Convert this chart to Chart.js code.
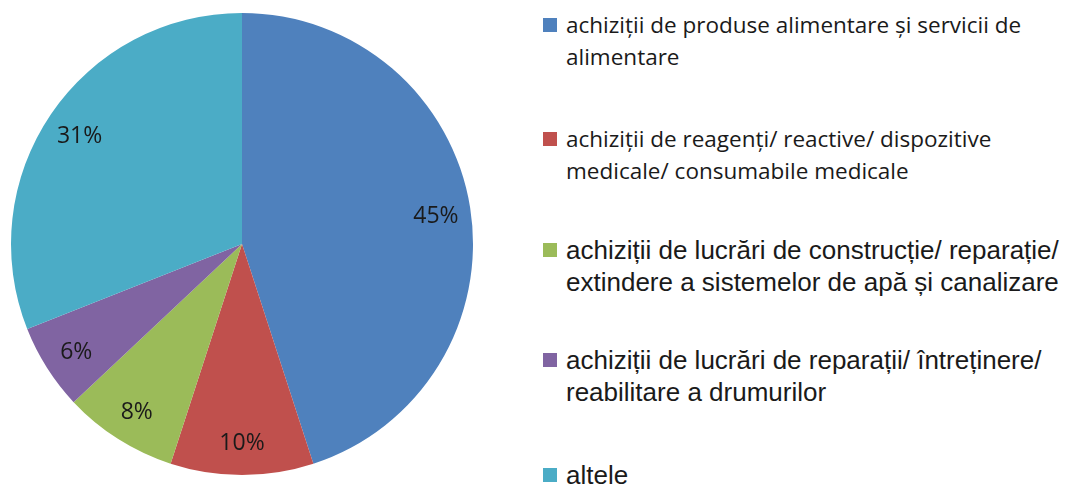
<!DOCTYPE html>
<html>
<head>
<meta charset="utf-8">
<script src="https://cdn.jsdelivr.net/npm/chart.js@4.4.0/dist/chart.umd.min.js"></script>
<style>
  html, body { margin: 0; padding: 0; background: #fff; }
  body { width: 1076px; height: 484px; position: relative; overflow: hidden; }
  #wrap { position: absolute; left: 0; top: 0; width: 484px; height: 484px; }
  #legend { position: absolute; left: 543px; top: 0; width: 533px; height: 484px; }
  .item { position: absolute; left: 0; }
  .box { position: absolute; left: 0; width: 14px; height: 14px; }
  .txt { position: absolute; left: 23px; white-space: nowrap; color: #1a1a1a; line-height: 32px; }
  .cal { font-family: "Open Sans", "Noto Sans", sans-serif; font-size: 22.5px; }
  .ari { font-family: "Liberation Sans", Arial, sans-serif; font-size: 26px; }
</style>
</head>
<body>
<div id="wrap"><canvas id="c" width="484" height="484"></canvas></div>
<div id="legend"></div>
<script>
const categories = [
  ["achiziții de produse alimentare și servicii de", "alimentare"],
  ["achiziții de reagenți/ reactive/ dispozitive", "medicale/ consumabile medicale"],
  ["achiziții de lucrări de construcție/ reparație/", "extindere a sistemelor de apă și canalizare"],
  ["achiziții de lucrări de reparații/ întreținere/", "reabilitare a drumurilor"],
  ["altele"]
];
const values = [45, 10, 8, 6, 31];
const valueLabels = ["45%", "10%", "8%", "6%", "31%"];
const colors = ["#4F81BD", "#C0504D", "#9BBB59", "#8064A2", "#4BACC6"];
const legendFonts = ["cal", "cal", "ari", "ari", "ari"];
const legendTops = [18, 132, 243, 353, 468];

const labelPlugin = {
  id: 'sliceLabels',
  afterDatasetsDraw(chart) {
    const ctx = chart.ctx;
    const meta = chart.getDatasetMeta(0);
    ctx.save();
    ctx.font = '23px "Open Sans", "Noto Sans", sans-serif';
    ctx.fillStyle = '#1a1a1a';
    ctx.textAlign = 'center';
    ctx.textBaseline = 'middle';
    meta.data.forEach((arc, i) => {
      const p = arc.getProps(['x', 'y', 'startAngle', 'endAngle', 'outerRadius'], true);
      const mid = (p.startAngle + p.endAngle) / 2;
      const r = p.outerRadius * 0.85;
      ctx.fillText(valueLabels[i], p.x + Math.cos(mid) * r, p.y + Math.sin(mid) * r + 3);
    });
    ctx.restore();
  }
};

new Chart(document.getElementById('c'), {
  type: 'pie',
  data: {
    labels: categories.map(c => c.join(' ')),
    datasets: [{ data: values, backgroundColor: colors, borderWidth: 0 }]
  },
  options: {
    responsive: false,
    animation: false,
    layout: { padding: { top: 13, bottom: 9, left: 11, right: 11 } },
    plugins: { legend: { display: false }, tooltip: { enabled: false } }
  },
  plugins: [labelPlugin]
});

const leg = document.getElementById('legend');
categories.forEach((lines, i) => {
  const item = document.createElement('div');
  item.className = 'item';
  item.style.top = legendTops[i] + 'px';
  const box = document.createElement('div');
  box.className = 'box';
  box.style.background = colors[i];
  const txt = document.createElement('div');
  txt.className = 'txt ' + legendFonts[i];
  txt.style.top = '-9px';
  txt.innerHTML = lines.map(l => l.replace(/&/g, '&amp;')).join('<br>');
  item.appendChild(box);
  item.appendChild(txt);
  leg.appendChild(item);
});
</script>
</body>
</html>
